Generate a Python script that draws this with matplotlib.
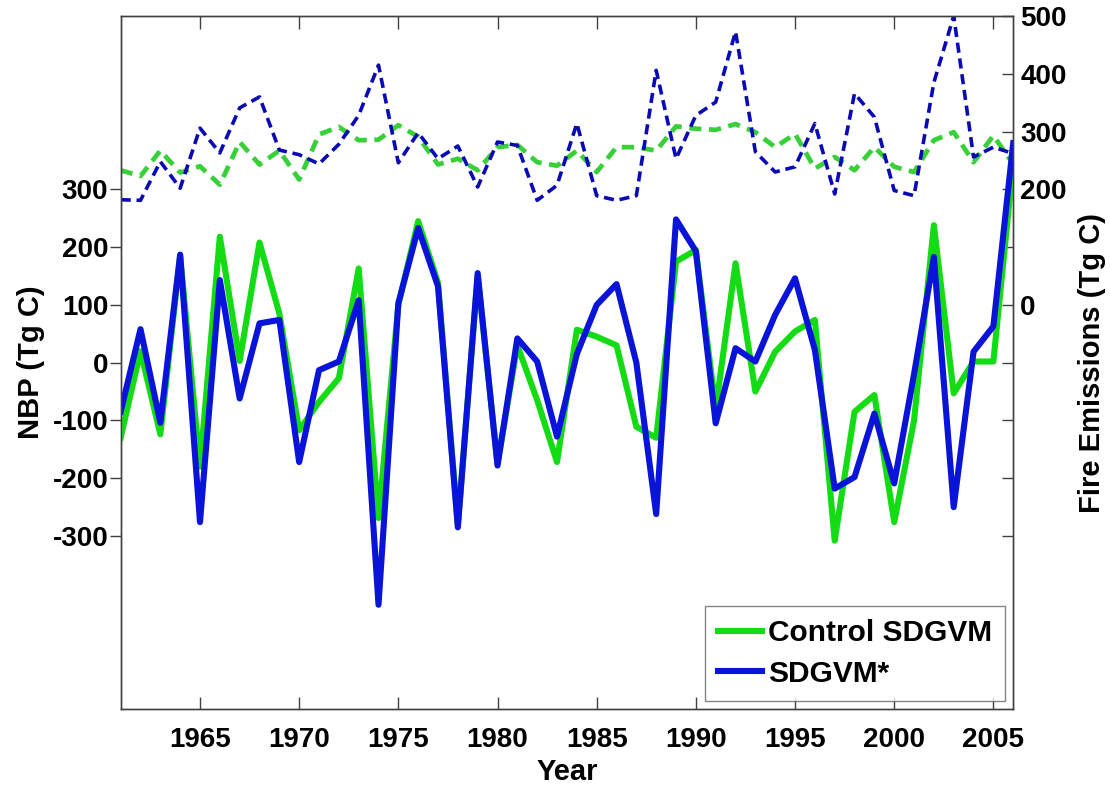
import numpy as np
import matplotlib
matplotlib.use('Agg')
import matplotlib.pyplot as plt

plt.rcParams['font.family'] = ['Liberation Sans', 'DejaVu Sans']
plt.rcParams['font.weight'] = 'bold'
plt.rcParams['axes.unicode_minus'] = False

years = np.arange(1961, 2007)

# NBP (Tg C), left axis
nbp_control = [-130, 20, -124, 185, -180, 218, 3, 208, 85, -117,
               -68, -27, 163, -269, 100, 245, 138, -280, 150, -175,
               30, -65, -172, 57, 45, 30, -111, -130, 175, 195,
               -80, 172, -50, 19, 54, 74, -308, -85, -56, -276,
               -100, 238, -53, 2, 2, 345]
nbp_sdgvm = [-85, 58, -104, 187, -276, 143, -62, 68, 74, -172,
             -13, 2, 108, -419, 103, 233, 132, -285, 155, -178,
             42, 2, -128, 15, 100, 136, 0, -262, 248, 193,
             -105, 25, 2, 83, 146, 22, -218, -198, -88, -209,
             -20, 183, -250, 19, 63, 380]

# fire emissions (Tg C), right axis
fire_control = [233, 223, 267, 229, 240, 208, 282, 243, 267, 217,
                295, 308, 285, 286, 311, 291, 243, 253, 233, 273,
                277, 247, 241, 267, 230, 273, 273, 267, 309, 305,
                303, 313, 299, 273, 296, 236, 256, 233, 273, 239,
                230, 285, 299, 247, 293, 244]
fire_sdgvm = [182, 181, 248, 202, 306, 263, 341, 360, 268, 260,
              244, 278, 328, 415, 246, 298, 253, 275, 204, 282,
              276, 181, 207, 314, 189, 181, 189, 406, 253, 328,
              351, 473, 265, 230, 239, 314, 192, 366, 325, 198,
              189, 385, 500, 256, 273, 262]

green = '#14DC14'
blue = '#0A14D8'
green_d = '#38D038'
blue_d = '#0A0AB4'
spine_c = '#404040'

fig = plt.figure(figsize=(11.1, 7.85), dpi=100)
ax = fig.add_axes([0.1087, 0.0964, 0.8041, 0.8832])
ax2 = ax.twinx()

ax2.plot(years, fire_control, '--', color=green_d, lw=3.4, dashes=(2.6, 1.6))
ax2.plot(years, fire_sdgvm, '--', color=blue_d, lw=2.6, dashes=(2.8, 1.6))

ax.plot(years, nbp_control, color=green, lw=4.4, label='Control SDGVM')
ax.plot(years, nbp_sdgvm, color=blue, lw=4.4, label='SDGVM*')

ax.set_zorder(ax2.get_zorder() + 1)
ax.patch.set_visible(False)

ax.set_xlim(1961, 2006)
ax.set_ylim(-600, 600)
ax2.set_ylim(-700, 500)

ax.set_xticks([1965, 1970, 1975, 1980, 1985, 1990, 1995, 2000, 2005])
ax.set_yticks([-300, -200, -100, 0, 100, 200, 300])
ax2.set_yticks([-400, -300, -200, -100, 0, 100, 200, 300, 400, 500])
ax2.set_yticklabels(['', '', '', '', '0', '', '200', '300', '400', '500'])

ax.tick_params(axis='x', direction='in', top=True, length=9, width=1,
               color=spine_c, labelsize=20, pad=13)
ax.tick_params(axis='y', direction='out', length=8, width=1,
               color=spine_c, labelsize=20, pad=1)
ax2.tick_params(axis='y', direction='in', length=8, width=1,
                color=spine_c, labelsize=20, pad=5)

for a in (ax, ax2):
    for s in a.spines.values():
        s.set_color(spine_c)
        s.set_linewidth(1.0)

ax.set_xlabel('Year', fontsize=21, fontweight='bold', labelpad=3)
ax.set_ylabel('NBP (Tg C)', fontsize=21, fontweight='bold', labelpad=5)
ax2.set_ylabel('Fire Emissions (Tg C)', fontsize=21, fontweight='bold', labelpad=8)

leg = ax.legend(loc='lower right', bbox_to_anchor=(0.991, 0.012),
                borderaxespad=0, fontsize=21.5, frameon=True, fancybox=False,
                handlelength=1.45, handletextpad=0.2, borderpad=0.45,
                labelspacing=0.42)
leg.get_frame().set_edgecolor('#666666')
leg.get_frame().set_linewidth(1.0)

fig.savefig('out.png', dpi=100)
